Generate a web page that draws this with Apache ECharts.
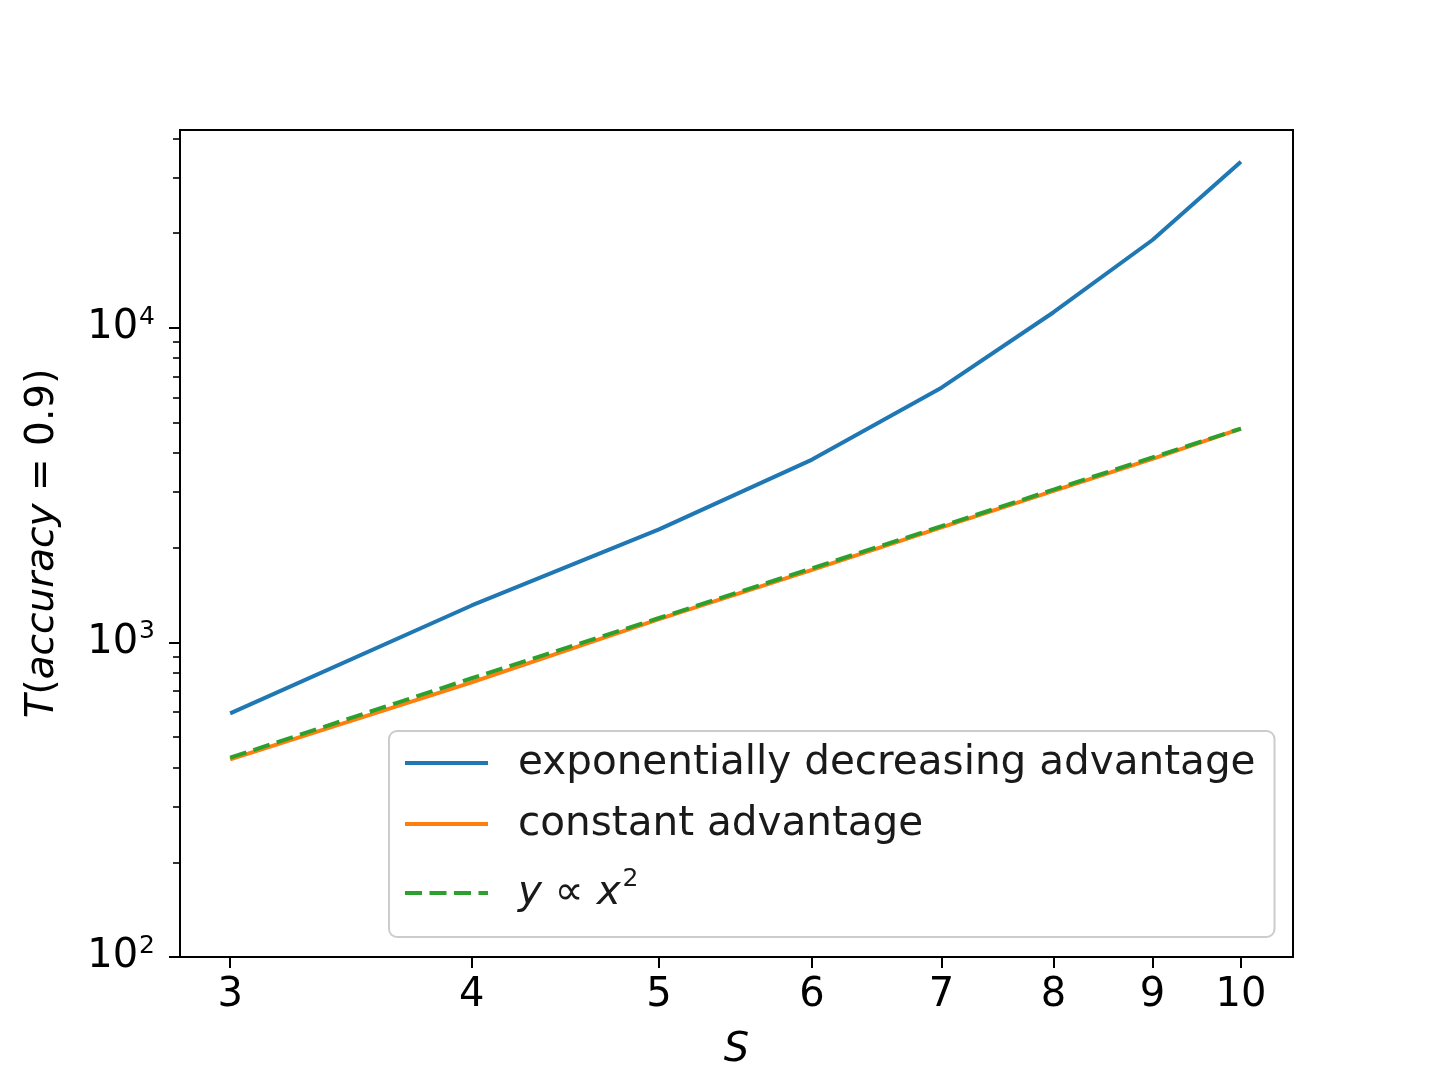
<!DOCTYPE html>
<html>
<head>
<meta charset="utf-8">
<script src="https://cdn.jsdelivr.net/npm/echarts@6/dist/echarts.min.js"></script>
<style>
html,body{margin:0;padding:0;background:#fff;}
#chart{width:1435px;height:1076px;}
</style>
</head>
<body>
<div id="chart"></div>
<script>
// ---- data ----
const sValues = [3, 4, 5, 6, 7, 8, 9, 10];
const expDecreasing = [595, 1310, 2285, 3810, 6450, 11200, 19000, 33700];
const constantAdv = [425, 746, 1185, 1700, 2320, 3030, 3830, 4780];
const quadratic = [430, 769, 1195, 1720, 2340, 3060, 3870, 4780];
const xTickLabels = [3, 4, 5, 6, 7, 8, 9, 10];
const yTickLabels = [100, 1000, 10000];
const seriesNames = ['exponentially decreasing advantage', 'constant advantage', 'y \u221D x\u00B2'];

// ---- build (log10 transform for log-log axes) ----
const lg = Math.log10;
const xMin = lg(2.826), xMax = lg(10.64);
const yMin = 2, yMax = lg(42500);
function pairs(ys) { return sValues.map((s, i) => [lg(s), lg(ys[i])]); }
const xTickPos = xTickLabels.map(v => lg(v));
const yMajorPos = yTickLabels.map(v => lg(v));
const yMinorPos = [];
for (let d = 2; d <= 4; d++) for (let k = 2; k <= 9; k++) {
  const p = d + lg(k);
  if (p <= yMax) yMinorPos.push(p);
}

const FONT = 'DejaVu Sans';
const FS = 40;
const chart = echarts.init(document.getElementById('chart'));

chart.setOption({
  animation: false,
  backgroundColor: '#fff',
  grid: { left: 180, right: 142, top: 130, bottom: 118, show: true, borderColor: '#000', borderWidth: 2, backgroundColor: 'transparent' },
  xAxis: [{
    type: 'value', min: xMin, max: xMax,
    axisLine: { show: false },
    splitLine: { show: false },
    axisTick: { show: true, length: 11, lineStyle: { color: '#000', width: 2 }, customValues: xTickPos },
    axisLabel: { customValues: xTickPos, margin: 19, color: '#000', fontFamily: FONT, fontSize: FS,
      formatter: v => String(Math.round(Math.pow(10, v))) },
    name: 'S', nameLocation: 'middle', nameGap: 74,
    nameTextStyle: { fontFamily: FONT, fontSize: FS, fontStyle: 'italic', color: '#000' }
  }],
  yAxis: [{
    type: 'value', min: yMin, max: yMax,
    axisLine: { show: false },
    splitLine: { show: false },
    axisTick: { show: true, length: 11, lineStyle: { color: '#000', width: 2 }, customValues: yMajorPos },
    axisLabel: { customValues: yMajorPos, margin: 25, color: '#000',
      formatter: v => '{b|10}{s|' + Math.round(v) + '}',
      rich: {
        b: { fontFamily: FONT, fontSize: FS, lineHeight: 40, color: '#000' },
        s: { fontFamily: FONT, fontSize: 25, lineHeight: 25, color: '#000', padding: [0, 0, 21, 1] }
      } },
    name: '{i|T}(\u200B{i|accuracy} = 0.9)', nameLocation: 'middle', nameGap: 118,
    nameTextStyle: { fontFamily: FONT, fontSize: 39, color: '#000',
      rich: { i: { fontFamily: FONT, fontSize: 39, fontStyle: 'italic', color: '#000' } } }
  }, {
    type: 'value', min: yMin, max: yMax, position: 'left',
    axisLine: { show: false }, splitLine: { show: false },
    axisTick: { show: true, length: 7, lineStyle: { color: '#000', width: 1.6 }, customValues: yMinorPos },
    axisLabel: { show: false }
  }],
  legend: {
    orient: 'vertical', left: 389, top: 731,
    data: seriesNames,
    itemWidth: 83, itemHeight: 4, itemGap: 17,
    padding: [10, 19, 14, 14],
    backgroundColor: 'rgba(255,255,255,0.8)',
    borderColor: '#cccccc', borderWidth: 2, borderRadius: 8,
    itemStyle: { opacity: 0 },
    lineStyle: { width: 4 },
    textStyle: { fontFamily: FONT, fontSize: 40.5, color: '#1a1a1a', lineHeight: 44, padding: [0, 0, 0, 25],
      rich: {
        i: { fontFamily: FONT, fontSize: 40.5, lineHeight: 60, fontStyle: 'italic', color: '#1a1a1a' },
        n: { fontFamily: FONT, fontSize: 40.5, lineHeight: 60, color: '#1a1a1a' },
        s: { fontFamily: FONT, fontSize: 25, lineHeight: 25, color: '#1a1a1a', padding: [0, 0, 28, 2] }
      } },
    formatter: name => name === seriesNames[2] ? '{i|y} {n|\u221D} {i|x}{s|2}' : name
  },
  series: [
    { name: seriesNames[0], type: 'line', data: pairs(expDecreasing), showSymbol: false, symbol: 'none',
      lineStyle: { color: '#1f77b4', width: 4 }, itemStyle: { color: '#1f77b4' }, z: 2 },
    { name: seriesNames[1], type: 'line', data: pairs(constantAdv), showSymbol: false, symbol: 'none',
      lineStyle: { color: '#ff7f0e', width: 4 }, itemStyle: { color: '#ff7f0e' }, z: 3 },
    { name: seriesNames[2], type: 'line', data: pairs(quadratic), showSymbol: false, symbol: 'none',
      lineStyle: { color: '#2ca02c', width: 4, type: [17, 7.5] }, itemStyle: { color: '#2ca02c' }, z: 4 }
  ]
});
</script>
</body>
</html>
